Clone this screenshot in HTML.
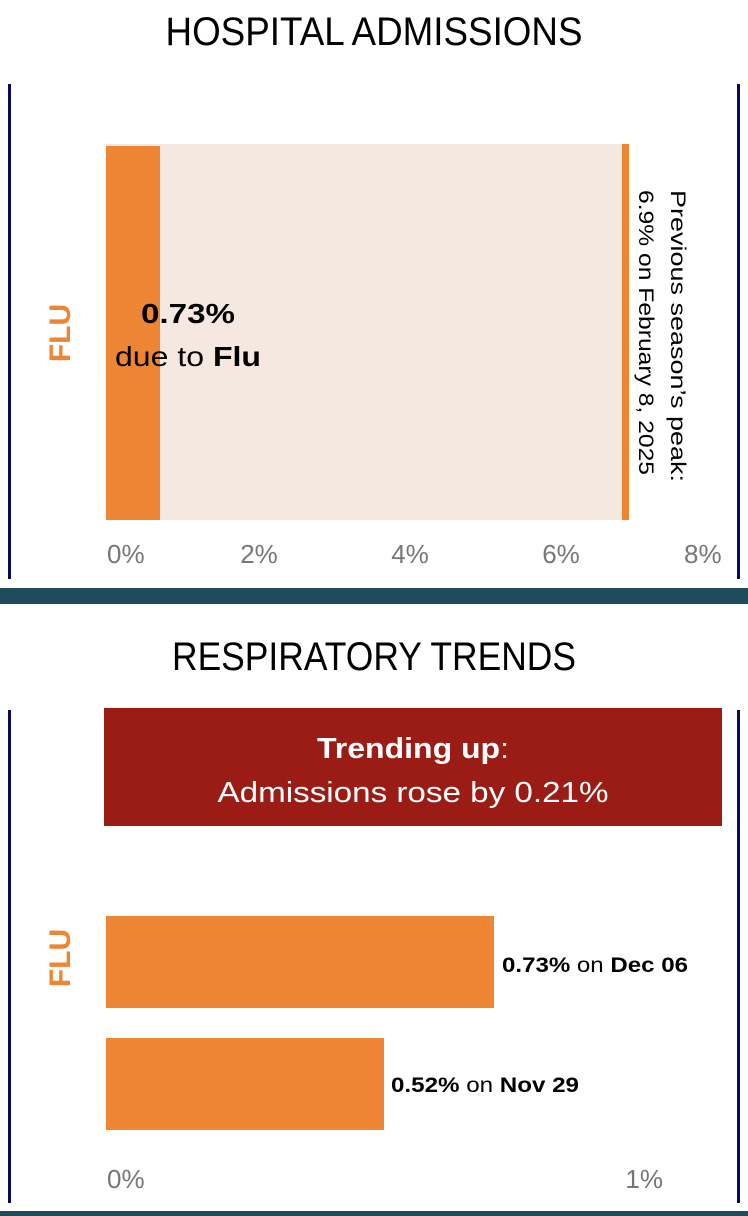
<!DOCTYPE html>
<html><head><meta charset="utf-8"><style>html,body{margin:0;padding:0;background:#fff}svg{display:block}</style></head>
<body>
<svg width="748" height="1216" viewBox="0 0 748 1216" xmlns="http://www.w3.org/2000/svg" font-family="Liberation Sans, DejaVu Sans, sans-serif">
<text x="374" y="45" text-anchor="middle" font-size="40" textLength="417" lengthAdjust="spacingAndGlyphs" fill="#000">HOSPITAL ADMISSIONS</text>
<rect x="8" y="84" width="3" height="495" fill="#0a0a5a"/>
<rect x="737" y="84" width="3" height="495" fill="#0a0a5a"/>
<rect x="106" y="144" width="516" height="376" fill="#f5e8e0"/>
<rect x="106" y="146" width="54" height="374" fill="#ee8533"/>
<rect x="622" y="144" width="7" height="376" fill="#ee8533"/>
<text x="188" y="323" text-anchor="middle" font-size="28" font-weight="bold" textLength="94" lengthAdjust="spacingAndGlyphs" fill="#000">0.73%</text>
<text x="188" y="366" text-anchor="middle" font-size="28" textLength="146" lengthAdjust="spacingAndGlyphs" fill="#000">due to <tspan font-weight="bold">Flu</tspan></text>
<text transform="translate(70,333) rotate(-90)" text-anchor="middle" font-size="30" font-weight="bold" fill="#ee8533">FLU</text>
<g transform="translate(671,190) rotate(90)" font-size="21" fill="#000">
<text x="0" y="0" textLength="292" lengthAdjust="spacingAndGlyphs">Previous season’s peak:</text>
<text x="0" y="32" textLength="285" lengthAdjust="spacingAndGlyphs">6.9% on February 8, 2025</text>
</g>
<g font-size="26" fill="#777">
<text x="107" y="563">0%</text>
<text x="259" y="563" text-anchor="middle">2%</text>
<text x="410" y="563" text-anchor="middle">4%</text>
<text x="561" y="563" text-anchor="middle">6%</text>
<text x="684" y="563">8%</text>
</g>
<rect x="721" y="530" width="16" height="40" fill="#fff"/>
<rect x="0" y="588" width="748" height="16" fill="#1f4a5a"/>
<text x="374" y="670" text-anchor="middle" font-size="40" textLength="404" lengthAdjust="spacingAndGlyphs" fill="#000">RESPIRATORY TRENDS</text>
<rect x="8" y="710" width="3" height="493" fill="#0a0a5a"/>
<rect x="737" y="710" width="3" height="493" fill="#0a0a5a"/>
<rect x="104" y="708" width="618" height="118" fill="#9b1c14"/>
<text x="413" y="758" text-anchor="middle" font-size="29" textLength="192" lengthAdjust="spacingAndGlyphs" fill="#fff"><tspan font-weight="bold">Trending up</tspan>:</text>
<text x="413" y="802" text-anchor="middle" font-size="29" textLength="391" lengthAdjust="spacingAndGlyphs" fill="#fff">Admissions rose by 0.21%</text>
<text transform="translate(70,958) rotate(-90)" text-anchor="middle" font-size="30" font-weight="bold" fill="#ee8533">FLU</text>
<rect x="106" y="916" width="388" height="92" fill="#ee8533"/>
<rect x="106" y="1038" width="278" height="92" fill="#ee8533"/>
<text x="502" y="972" font-size="21" textLength="186" lengthAdjust="spacingAndGlyphs" fill="#000"><tspan font-weight="bold">0.73%</tspan> on <tspan font-weight="bold">Dec 06</tspan></text>
<text x="391" y="1092" font-size="21" textLength="188" lengthAdjust="spacingAndGlyphs" fill="#000"><tspan font-weight="bold">0.52%</tspan> on <tspan font-weight="bold">Nov 29</tspan></text>
<g font-size="26" fill="#777">
<text x="107" y="1188">0%</text>
<text x="663" y="1188" text-anchor="end">1%</text>
</g>
<rect x="0" y="1211" width="748" height="5" fill="#1f4a5a"/>
</svg>
</body></html>
